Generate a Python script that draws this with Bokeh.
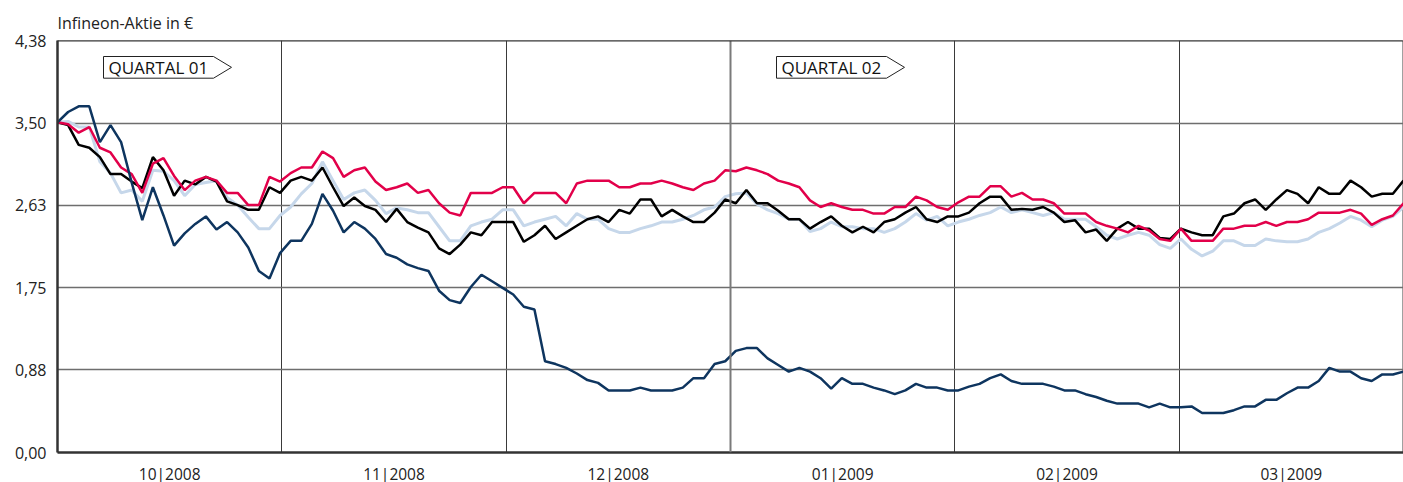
from bokeh.plotting import figure
from bokeh.models import FixedTicker, Span, Range1d
from bokeh.core.properties import value
from bokeh.embed import file_html
from bokeh.resources import INLINE

title_text = "Infineon-Aktie in €"
months = ["10|2008", "11|2008", "12|2008", "01|2009", "02|2009", "03|2009"]
y_ticks = [0.0, 0.88, 1.75, 2.63, 3.50, 4.38]
y_labels = ["0,00", "0,88", "1,75", "2,63", "3,50", "4,38"]
quarters = ["QUARTAL 01", "QUARTAL 02"]
quarter_start_month = [0, 3]

infineon = [3.51, 3.62, 3.68, 3.68, 3.30, 3.48, 3.30, 2.87, 2.47, 2.82, 2.52, 2.20, 2.33, 2.43, 2.51, 2.37, 2.45, 2.34, 2.18, 1.93, 1.85, 2.12,
            2.25, 2.25, 2.43, 2.75, 2.57, 2.34, 2.45, 2.38, 2.27, 2.11, 2.07, 2.00, 1.96, 1.93, 1.72, 1.62, 1.59, 1.76, 1.89, 1.82, 1.75,
            1.68, 1.55, 1.52, 0.97, 0.94, 0.90, 0.84, 0.77, 0.74, 0.66, 0.66, 0.66, 0.69, 0.66, 0.66, 0.66, 0.69, 0.79, 0.79, 0.94, 0.97,
            1.08, 1.11, 1.11, 1.00, 0.93, 0.86, 0.90, 0.86, 0.79, 0.68, 0.79, 0.73, 0.73, 0.69, 0.66, 0.62, 0.66, 0.73, 0.69, 0.69, 0.66, 0.66,
            0.70, 0.73, 0.79, 0.83, 0.76, 0.73, 0.73, 0.73, 0.70, 0.66, 0.66, 0.62, 0.59, 0.55, 0.52, 0.52, 0.52, 0.48, 0.52, 0.48, 0.48,
            0.49, 0.42, 0.42, 0.42, 0.45, 0.49, 0.49, 0.56, 0.56, 0.63, 0.69, 0.69, 0.76, 0.90, 0.86, 0.86, 0.79, 0.76, 0.83, 0.83, 0.86]

index_black = [3.51, 3.48, 3.27, 3.24, 3.14, 2.96, 2.96, 2.88, 2.81, 3.14, 3.00, 2.73, 2.89, 2.85, 2.93, 2.88, 2.67, 2.63, 2.58, 2.58, 2.82, 2.76,
               2.89, 2.93, 2.89, 3.03, 2.82, 2.62, 2.71, 2.62, 2.58, 2.45, 2.59, 2.45, 2.39, 2.34, 2.17, 2.11, 2.21, 2.34, 2.31, 2.45, 2.45,
               2.45, 2.24, 2.31, 2.41, 2.27, 2.34, 2.41, 2.48, 2.51, 2.45, 2.58, 2.54, 2.69, 2.69, 2.51, 2.58, 2.51, 2.45, 2.45, 2.55, 2.69,
               2.65, 2.79, 2.65, 2.65, 2.57, 2.48, 2.48, 2.38, 2.45, 2.51, 2.41, 2.34, 2.40, 2.34, 2.45, 2.48, 2.55, 2.61, 2.48, 2.45, 2.51, 2.51,
               2.55, 2.65, 2.72, 2.72, 2.58, 2.59, 2.58, 2.61, 2.55, 2.45, 2.47, 2.34, 2.37, 2.25, 2.38, 2.45, 2.38, 2.38, 2.28, 2.27, 2.38,
               2.34, 2.31, 2.31, 2.51, 2.54, 2.65, 2.69, 2.58, 2.69, 2.79, 2.75, 2.65, 2.82, 2.75, 2.75, 2.89, 2.82, 2.72, 2.75, 2.75, 2.89]

index_red = [3.51, 3.49, 3.40, 3.46, 3.24, 3.19, 3.03, 2.96, 2.76, 3.07, 3.13, 2.94, 2.79, 2.89, 2.93, 2.89, 2.76, 2.76, 2.63, 2.63, 2.93, 2.88,
             2.97, 3.03, 3.03, 3.20, 3.13, 2.93, 3.00, 3.03, 2.88, 2.79, 2.82, 2.86, 2.76, 2.79, 2.65, 2.55, 2.52, 2.76, 2.76, 2.76, 2.82,
             2.82, 2.65, 2.76, 2.76, 2.76, 2.65, 2.86, 2.89, 2.89, 2.89, 2.82, 2.82, 2.86, 2.86, 2.89, 2.86, 2.82, 2.79, 2.86, 2.89, 3.00,
             2.99, 3.03, 3.00, 2.96, 2.89, 2.86, 2.82, 2.68, 2.61, 2.65, 2.61, 2.58, 2.58, 2.54, 2.54, 2.61, 2.61, 2.72, 2.68, 2.61, 2.58, 2.66,
             2.72, 2.72, 2.83, 2.83, 2.72, 2.76, 2.69, 2.69, 2.65, 2.54, 2.54, 2.54, 2.45, 2.41, 2.38, 2.34, 2.41, 2.36, 2.27, 2.25, 2.38,
             2.25, 2.25, 2.25, 2.38, 2.38, 2.41, 2.41, 2.45, 2.41, 2.45, 2.45, 2.48, 2.55, 2.55, 2.55, 2.58, 2.54, 2.42, 2.48, 2.52, 2.65]

index_light = [3.51, 3.52, 3.46, 3.46, 3.09, 2.97, 2.76, 2.79, 2.67, 3.00, 2.99, 2.89, 2.73, 2.85, 2.87, 2.89, 2.71, 2.63, 2.50, 2.38, 2.38, 2.52,
               2.61, 2.75, 2.86, 3.09, 2.89, 2.69, 2.76, 2.79, 2.68, 2.54, 2.60, 2.58, 2.55, 2.55, 2.40, 2.25, 2.25, 2.41, 2.45, 2.48, 2.58,
               2.58, 2.41, 2.45, 2.48, 2.51, 2.41, 2.54, 2.48, 2.48, 2.38, 2.34, 2.34, 2.38, 2.41, 2.45, 2.45, 2.48, 2.52, 2.58, 2.61, 2.72,
               2.75, 2.76, 2.64, 2.58, 2.54, 2.48, 2.48, 2.35, 2.38, 2.45, 2.40, 2.40, 2.38, 2.38, 2.34, 2.38, 2.45, 2.54, 2.47, 2.51, 2.41, 2.45,
               2.48, 2.52, 2.55, 2.61, 2.55, 2.58, 2.55, 2.52, 2.55, 2.48, 2.48, 2.48, 2.40, 2.31, 2.27, 2.31, 2.34, 2.31, 2.21, 2.17, 2.27,
               2.16, 2.09, 2.14, 2.25, 2.25, 2.20, 2.20, 2.27, 2.25, 2.24, 2.24, 2.27, 2.34, 2.38, 2.44, 2.51, 2.47, 2.40, 2.47, 2.51, 2.61]

FONT = "Open Sans"
n = len(infineon)
xs = list(range(n))
x_max = n - 1
month_w = x_max / len(months)
FRAME_W, FRAME_H = 1346, 412
px_x = x_max / FRAME_W          # data units per pixel (x)
px_y = y_ticks[-1] / FRAME_H    # data units per pixel (y)

p = figure(frame_width=FRAME_W, frame_height=FRAME_H,
           x_range=Range1d(0, x_max), y_range=Range1d(0, y_ticks[-1]),
           output_backend="svg", toolbar_location=None,
           min_border_left=57, min_border_right=0, min_border_top=40, min_border_bottom=30,
           background_fill_color="white", border_fill_color="white")

p.title.text = title_text
p.title.text_font = FONT
p.title.text_font_size = "16px"
p.title.text_font_style = "normal"
p.title.text_color = "#222222"
p.title.align = "left"
p.title.standoff = 14

p.outline_line_color = "#a0a0a0"
p.outline_line_width = 1

# axes
for ax in (p.xaxis, p.yaxis):
    ax.major_tick_out = 0
    ax.major_tick_in = 0
    ax.minor_tick_out = 0
    ax.minor_tick_in = 0
    ax.major_tick_line_color = None
    ax.minor_tick_line_color = None
    ax.axis_line_color = "#333333"
    ax.axis_line_width = 2.5
    ax.major_label_text_font = FONT
    ax.major_label_text_color = "#222222"

p.yaxis.ticker = FixedTicker(ticks=y_ticks)
p.yaxis.major_label_overrides = {t: l for t, l in zip(y_ticks, y_labels)}
p.yaxis.major_label_standoff = 11
p.yaxis.major_label_text_font_size = "16px"

month_centers = [(i + 0.5) * month_w for i in range(len(months))]
month_bounds = [i * month_w for i in range(1, len(months))]
p.xaxis.ticker = FixedTicker(ticks=month_centers)
p.xaxis.major_label_overrides = {c: m for c, m in zip(month_centers, months)}
p.xaxis.major_label_standoff = 10
p.xaxis.major_label_text_font_size = "15.5px"

# grids
p.ygrid.ticker = FixedTicker(ticks=y_ticks[1:])
p.ygrid.grid_line_color = "#6e6e6e"
p.ygrid.grid_line_width = 1.5
p.xgrid.ticker = FixedTicker(ticks=[b for i, b in enumerate(month_bounds) if i != 2])
p.xgrid.grid_line_color = "#3a3a3a"
p.xgrid.grid_line_width = 1
p.add_layout(Span(location=month_bounds[2], dimension="height", line_color="#7a7a7a", line_width=2))
p.add_layout(Span(location=y_ticks[-1], dimension="width", line_color="#333333", line_width=2))

# lines
p.line(xs, index_light, line_color="#c6d7ea", line_width=3)
p.line(xs, index_black, line_color="#000000", line_width=2.5)
p.line(xs, index_red, line_color="#e2004a", line_width=2.5)
p.line(xs, infineon, line_color="#0e355f", line_width=2.5)

# quarter markers
q_left, q_right, q_tip = 46, 156, 174       # pixel offsets from quarter start
q_top, q_bot = 16, 37.7                      # pixel offsets below frame top
box_xs, box_ys, tx, ty = [], [], [], []
for m in quarter_start_month:
    x0 = m * month_w
    l = x0 + q_left * px_x
    r = x0 + q_right * px_x
    t = x0 + q_tip * px_x
    top = y_ticks[-1] - q_top * px_y
    bot = y_ticks[-1] - q_bot * px_y
    mid = (top + bot) / 2
    box_xs.append([l, r, t, r, l])
    box_ys.append([top, top, mid, bot, bot])
    tx.append(l + 5 * px_x)
    ty.append(mid)
p.patches(box_xs, box_ys, fill_color="white", line_color="#222222", line_width=1)
p.text(tx, ty, text=quarters, text_font=value(FONT), text_font_size="17px",
       text_baseline="middle", text_align="left", text_color="#111111")

open("out.html", "w").write(file_html(p, INLINE))
